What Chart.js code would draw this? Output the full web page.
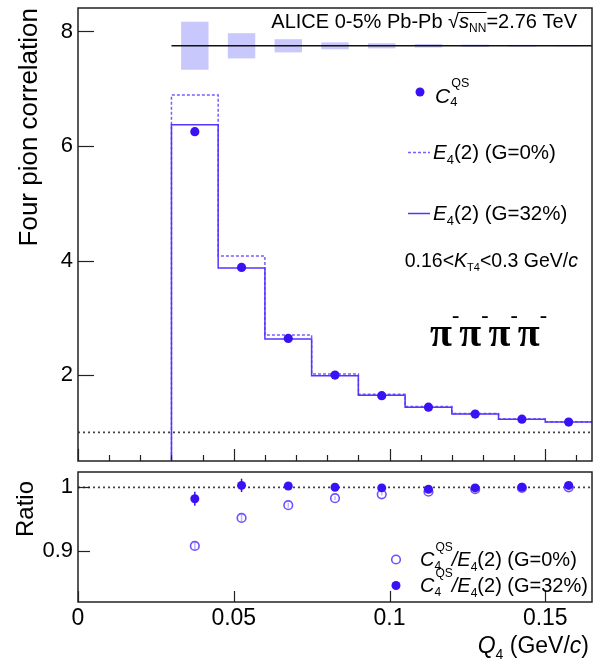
<!DOCTYPE html>
<html><head><meta charset="utf-8">
<script src="https://cdn.jsdelivr.net/npm/chart.js@4.4.1/dist/chart.umd.min.js"></script>
<style>
html,body{margin:0;padding:0;background:#fff;}
#wrap{position:relative;width:598px;height:662px;overflow:hidden;}
canvas{position:absolute;left:0;top:0;}
</style></head><body>
<div id="wrap"><canvas id="topc" width="598" height="662"></canvas><canvas id="botc" width="598" height="662"></canvas></div>
<script>
// ---------------- data ----------------
const binEdges   = [0.03, 0.045, 0.06, 0.075, 0.09, 0.105, 0.12, 0.135, 0.15, 0.165];
const binCenters = [0.0375, 0.0525, 0.0675, 0.0825, 0.0975, 0.1125, 0.1275, 0.1425, 0.1575];
const c4qs   = [6.25, 3.88, 2.64, 2.00, 1.64, 1.44, 1.32, 1.23, 1.18];
const e4G0   = [6.89, 4.08, 2.70, 2.02, 1.665, 1.45, 1.33, 1.235, 1.185];
const e4G32  = [6.37, 3.87, 2.63, 1.99, 1.65, 1.44, 1.32, 1.23, 1.18];
const sysCenter = 7.75;
const sysHalf = [0.42, 0.22, 0.115, 0.06, 0.045, 0.03, 0.02, 0.015, 0.01];
const ratioG0     = [0.908, 0.952, 0.972, 0.983, 0.989, 0.993, 0.997, 0.999, 1.000];
const ratioG0Err  = [0.007, 0.006, 0.004, 0.003, 0.002, 0.002, 0.002, 0.002, 0.002];
const ratioG32    = [0.982, 1.003, 1.002, 1.000, 0.999, 0.997, 0.999, 1.000, 1.003];
const ratioG32Err = [0.011, 0.0105, 0.006, 0.003, 0.002, 0.002, 0.002, 0.002, 0.002];
const xTickLabels    = ['0', '0.05', '0.1', '0.15'];
const yTopTickLabels = ['2', '4', '6', '8'];
const yBotTickLabels = ['0.9', '1'];

// ---------------- style ----------------
const FONT = '"Liberation Sans", Arial, Helvetica, sans-serif';
const SERIF = '"Liberation Serif", "Times New Roman", serif';
const N = s => `${s}px ${FONT}`;
const I = s => `italic ${s}px ${FONT}`;
const COL_PT = '#3a10f5';
const COL_SOLID = '#5436ff';
const COL_DASH = '#7a5cff';
const COL_OPEN = '#6e52ff';
const COL_BOX = 'rgba(190,190,252,0.85)';

const fmt = v => String(parseFloat(Number(v).toFixed(4)));
const pickLabel = list => v => { const i = list.indexOf(fmt(v)); return i >= 0 ? list[i] : null; };
const noPad = s => { s.paddingTop = 0; s.paddingBottom = 0; s.paddingLeft = 0; s.paddingRight = 0; };

function drawRich(ctx, x, y, parts, align) {
  ctx.save();
  ctx.textBaseline = 'alphabetic'; ctx.textAlign = 'left';
  const ws = parts.map(p => {
    if (p.stack) {
      ctx.font = p.supF; const a = ctx.measureText(p.sup).width;
      ctx.font = p.subF; const b = ctx.measureText(p.sub).width;
      return Math.max(a, b) + (p.gap || 0);
    }
    ctx.font = p.f; return ctx.measureText(p.t).width + (p.gap || 0);
  });
  const total = ws.reduce((a, b) => a + b, 0);
  let cx = align === 'right' ? x - total : x;
  parts.forEach((p, i) => {
    ctx.fillStyle = p.c || '#000';
    if (p.stack) {
      ctx.font = p.supF; ctx.fillText(p.sup, cx + (p.supDx || 0), y + p.supDy);
      ctx.font = p.subF; ctx.fillText(p.sub, cx, y + p.subDy);
    } else {
      ctx.font = p.f; ctx.fillText(p.t, cx, y + (p.dy || 0));
    }
    p.x0 = cx; p.x1 = cx + ws[i];
    cx += ws[i];
  });
  ctx.restore();
  return parts;
}

const innerTicks = {
  id: 'innerTicks',
  afterDatasetsDraw(chart, args, o) {
    const {ctx, chartArea: a} = chart;
    const xs = chart.scales.x, ys = chart.scales.y;
    const isMaj = (v, list) => list.some(m => Math.abs(m - v) < 1e-9);
    const onStep = (v, st) => Math.abs(v / st - Math.round(v / st)) < 1e-6;
    ctx.save();
    ctx.strokeStyle = '#222'; ctx.lineWidth = 1.2;
    xs.ticks.forEach(t => {
      const v = t.value;
      if (!onStep(v, o.xStep) || v < xs.min - 1e-9 || v > xs.max - 1e-6) return;
      const px = Math.round(xs.getPixelForValue(v)) + 0.5;
      const L = isMaj(v, o.xMajor) ? o.xMaj : o.xMin;
      ctx.beginPath(); ctx.moveTo(px, a.bottom); ctx.lineTo(px, a.bottom - L); ctx.stroke();
    });
    ys.ticks.forEach(t => {
      const v = t.value;
      if (!onStep(v, o.yStep) || v < ys.min + 1e-6 || v > ys.max - 1e-6) return;
      const py = Math.round(ys.getPixelForValue(v)) + 0.5;
      const L = isMaj(v, o.yMajor) ? o.yMaj : o.yMin;
      ctx.beginPath(); ctx.moveTo(a.left, py); ctx.lineTo(a.left + L, py); ctx.stroke();
    });
    ctx.strokeStyle = '#222'; ctx.lineWidth = 1.5;
    ctx.strokeRect(a.left, a.top, a.width, a.height);
    ctx.restore();
  }
};

const errorBars = {
  id: 'errorBars',
  beforeDatasetsDraw(chart) {
    const {ctx} = chart; const ys = chart.scales.y;
    ctx.save();
    ctx.beginPath(); ctx.rect(chart.chartArea.left, chart.chartArea.top, chart.chartArea.width, chart.chartArea.height); ctx.clip();
    chart.data.datasets.forEach((ds, di) => {
      if (!ds.errorBars) return;
      const meta = chart.getDatasetMeta(di);
      ctx.strokeStyle = ds.errorColor; ctx.lineWidth = 1.5;
      meta.data.forEach((pt, i) => {
        const v = ds.data[i].y, e = ds.errorBars[i];
        ctx.beginPath();
        ctx.moveTo(pt.x, ys.getPixelForValue(v - e));
        ctx.lineTo(pt.x, ys.getPixelForValue(v + e));
        ctx.stroke();
      });
    });
    ctx.restore();
  }
};

const histData = vals => [{x: binEdges[0], y: 0}]
  .concat(binEdges.slice(0, -1).map((x, i) => ({x, y: vals[i]})))
  .concat([{x: binEdges[binEdges.length - 1], y: vals[vals.length - 1]}]);

const topTexts = {
  id: 'topTexts',
  afterDraw(chart) {
    const ctx = chart.ctx;
    // ALICE header
    const p = drawRich(ctx, 577, 28, [
      {t: 'ALICE 0-5% Pb-Pb ', f: N(20)},
      {t: '\u221A', f: N(20)},
      {t: 's', f: I(20)},
      {t: 'NN', f: N(12), dy: 4, c: '#000'},
      {t: '=2.76 TeV', f: N(20)}
    ], 'right');
    ctx.save(); ctx.strokeStyle = '#000'; ctx.lineWidth = 1;
    ctx.beginPath(); ctx.moveTo(p[2].x0 - 1, 12.5); ctx.lineTo(p[3].x1, 12.5); ctx.stroke(); ctx.restore();
    // legend
    ctx.save();
    ctx.fillStyle = COL_PT; ctx.beginPath(); ctx.arc(420, 92, 4.5, 0, Math.PI * 2); ctx.fill();
    ctx.strokeStyle = COL_DASH; ctx.lineWidth = 1.5; ctx.setLineDash([3, 2]);
    ctx.beginPath(); ctx.moveTo(408, 152.5); ctx.lineTo(430, 152.5); ctx.stroke();
    ctx.strokeStyle = COL_SOLID; ctx.setLineDash([]);
    ctx.beginPath(); ctx.moveTo(408, 213.5); ctx.lineTo(430, 213.5); ctx.stroke();
    ctx.restore();
    drawRich(ctx, 435, 103, [
      {t: 'C', f: I(21)},
      {stack: true, sup: 'QS', supF: N(12.5), supDy: -16, supDx: 1, sub: '4', subF: N(13), subDy: 3}
    ]);
    drawRich(ctx, 433, 159, [
      {t: 'E', f: I(20.5)}, {t: '4', f: N(13), dy: 5}, {t: '(2) (G=0%)', f: N(20.5)}
    ]);
    drawRich(ctx, 433, 220, [
      {t: 'E', f: I(20.5)}, {t: '4', f: N(13), dy: 5}, {t: '(2) (G=32%)', f: N(20.5)}
    ]);
    drawRich(ctx, 578, 267, [
      {t: '0.16<', f: N(19.5)}, {t: 'K', f: I(19.5)}, {t: 'T4', f: N(11), dy: 4},
      {t: '<0.3 GeV/', f: N(19.5)}, {t: 'c', f: I(19.5)}
    ], 'right');
    const pis = [];
    for (let k = 0; k < 4; k++) {
      pis.push({t: '\u03C0', f: `bold 40px ${SERIF}`});
      pis.push({t: '-', f: `bold 22px ${SERIF}`, dy: -24});
    }
    drawRich(ctx, 547, 346, pis, 'right');
  }
};

const botTexts = {
  id: 'botTexts',
  afterDraw(chart) {
    const ctx = chart.ctx;
    ctx.save();
    ctx.strokeStyle = COL_OPEN; ctx.lineWidth = 1.6;
    ctx.beginPath(); ctx.arc(396, 559.5, 4.3, 0, Math.PI * 2); ctx.stroke();
    ctx.fillStyle = COL_PT; ctx.beginPath(); ctx.arc(396, 585.5, 4.5, 0, Math.PI * 2); ctx.fill();
    ctx.restore();
    const leg = g => [
      {t: 'C', f: I(20)},
      {stack: true, sup: 'QS', supF: N(12), supDy: -15, supDx: 1, sub: '4', subF: N(12), subDy: 4},
      {t: '/', f: I(20)}, {t: 'E', f: I(20)}, {t: '4', f: N(12), dy: 5},
      {t: '(2) (G=' + g + ')', f: N(20)}
    ];
    drawRich(ctx, 420, 566, leg('0%'));
    drawRich(ctx, 420, 592, leg('32%'));
    // x title
    drawRich(ctx, 589, 653, [
      {t: 'Q', f: I(23)}, {t: '4', f: N(14), dy: 6}, {t: ' (GeV/', f: N(23)}, {t: 'c', f: I(23)}, {t: ')', f: N(23)}
    ], 'right');
    // y title
    ctx.save();
    ctx.translate(26, 481); ctx.rotate(-Math.PI / 2);
    ctx.font = N(24); ctx.fillStyle = '#000'; ctx.textAlign = 'right'; ctx.textBaseline = 'middle';
    ctx.fillText('Ratio', 0, 0);
    ctx.restore();
  }
};

// ---------------- top chart ----------------
new Chart(document.getElementById('topc'), {
  type: 'line',
  data: {
    datasets: [
      {type: 'bar', label: 'sys', order: 6,
       data: binCenters.map((x, i) => ({x, y: [sysCenter - sysHalf[i], sysCenter + sysHalf[i]]})),
       backgroundColor: COL_BOX, borderWidth: 0, categoryPercentage: 1.0, barPercentage: 0.88},
      {label: 'norm', order: 5, data: [{x: binEdges[0], y: sysCenter}, {x: binEdges[binEdges.length - 1], y: sysCenter}],
       borderColor: '#111', borderWidth: 1.5, pointRadius: 0},
      {label: 'one', order: 4, data: [{x: 0, y: 1}, {x: binEdges[binEdges.length - 1], y: 1}],
       borderColor: '#444', borderWidth: 1.8, borderDash: [2, 3], pointRadius: 0},
      {label: 'E4 G=0%', order: 3, data: histData(e4G0), stepped: 'before',
       borderColor: COL_DASH, borderWidth: 1.5, borderDash: [3, 2], pointRadius: 0},
      {label: 'E4 G=32%', order: 2, data: histData(e4G32), stepped: 'before',
       borderColor: COL_SOLID, borderWidth: 1.5, pointRadius: 0},
      {label: 'C4QS', order: 1, data: binCenters.map((x, i) => ({x, y: c4qs[i]})), showLine: false,
       pointRadius: 4.6, pointBackgroundColor: COL_PT, pointBorderWidth: 0}
    ]
  },
  options: {
    responsive: false, animation: false, events: [], devicePixelRatio: 1,
    layout: {padding: {left: 0, top: 8, right: 6, bottom: 201}},
    plugins: {
      legend: {display: false}, tooltip: {enabled: false},
      innerTicks: {xStep: 0.01, yStep: 0.5, xMajor: xTickLabels.map(Number), yMajor: yTopTickLabels.map(Number),
                   xMaj: 12, xMin: 6, yMaj: 16, yMin: 9}
    },
    scales: {
      x: {type: 'linear', min: 0, max: 0.165, offset: false,
          ticks: {display: false, stepSize: 0.01, maxTicksLimit: 100, autoSkip: false, includeBounds: false},
          grid: {display: false, drawTicks: false}, border: {display: false},
          afterFit: s => { s.height = 0; noPad(s); }},
      y: {type: 'linear', min: 0.5, max: 8.41,
          ticks: {stepSize: 0.5, maxTicksLimit: 100, autoSkip: false, padding: 5, includeBounds: false,
                  callback: pickLabel(yTopTickLabels), color: '#000', font: {family: FONT, size: 22}},
          grid: {display: false, drawTicks: false}, border: {display: false},
          title: {display: true, text: 'Four pion correlation', align: 'end', color: '#000',
                  font: {family: FONT, size: 26}, padding: {top: 14, bottom: 0}},
          afterFit: s => { s.width = 78; noPad(s); }}
    }
  },
  plugins: [innerTicks, topTexts]
});

// ---------------- bottom chart ----------------
new Chart(document.getElementById('botc'), {
  type: 'line',
  data: {
    datasets: [
      {label: 'one', order: 3, data: [{x: 0, y: 1}, {x: binEdges[binEdges.length - 1], y: 1}],
       borderColor: '#444', borderWidth: 1.8, borderDash: [2, 3], pointRadius: 0},
      {label: 'G=0%', order: 2, data: binCenters.map((x, i) => ({x, y: ratioG0[i]})), showLine: false,
       errorBars: ratioG0Err, errorColor: 'rgba(150,130,255,0.6)',
       pointRadius: 4.3, pointBackgroundColor: 'rgba(255,255,255,0)', pointBorderColor: COL_OPEN, pointBorderWidth: 1.6},
      {label: 'G=32%', order: 1, data: binCenters.map((x, i) => ({x, y: ratioG32[i]})), showLine: false,
       errorBars: ratioG32Err, errorColor: COL_PT,
       pointRadius: 4.5, pointBackgroundColor: COL_PT, pointBorderWidth: 0}
    ]
  },
  options: {
    responsive: false, animation: false, events: [], devicePixelRatio: 1,
    layout: {padding: {left: 0, top: 472, right: 6, bottom: 0}},
    plugins: {
      legend: {display: false}, tooltip: {enabled: false},
      innerTicks: {xStep: 0.01, yStep: 0.05, xMajor: xTickLabels.map(Number), yMajor: yBotTickLabels.map(Number),
                   xMaj: 11, xMin: 4, yMaj: 12, yMin: 6}
    },
    scales: {
      x: {type: 'linear', min: 0, max: 0.165, offset: false,
          ticks: {stepSize: 0.01, maxTicksLimit: 100, autoSkip: false, maxRotation: 0, padding: 3, includeBounds: false,
                  callback: pickLabel(xTickLabels), color: '#000', font: {family: FONT, size: 23}},
          grid: {display: false, drawTicks: false}, border: {display: false},
          afterFit: s => { s.height = 60; noPad(s); }},
      y: {type: 'linear', min: 0.82, max: 1.024,
          ticks: {stepSize: 0.05, maxTicksLimit: 100, autoSkip: false, padding: 5, includeBounds: false,
                  callback: pickLabel(yBotTickLabels), color: '#000', font: {family: FONT, size: 22}},
          grid: {display: false, drawTicks: false}, border: {display: false},
          afterFit: s => { s.width = 78; noPad(s); }}
    }
  },
  plugins: [innerTicks, errorBars, botTexts]
});
</script>
</body></html>
